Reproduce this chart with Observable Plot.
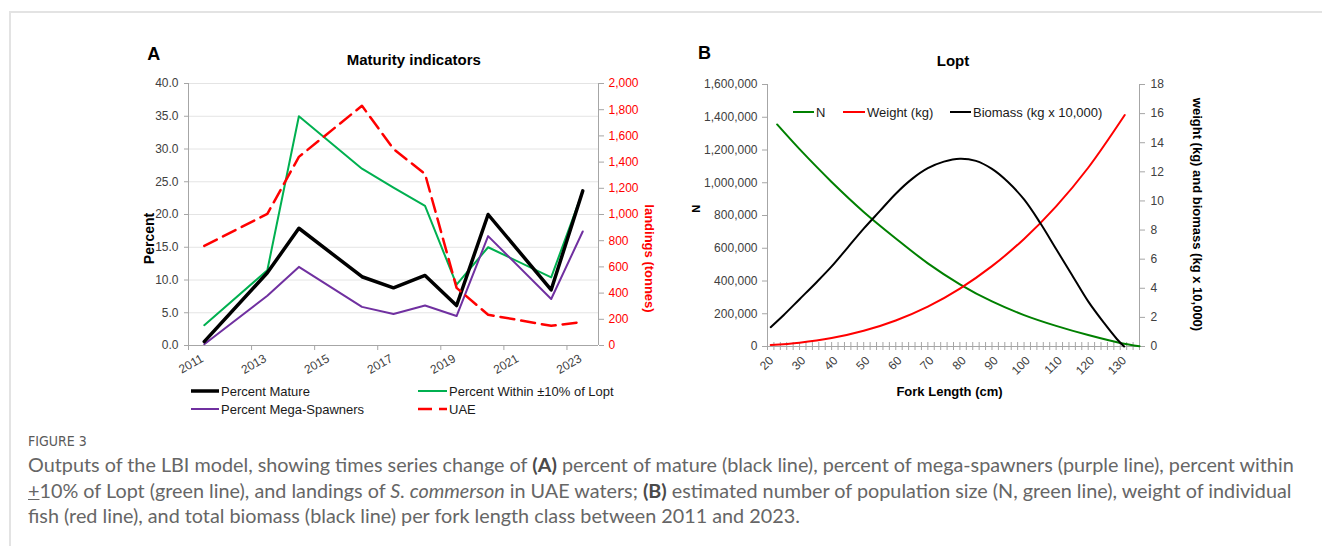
<!DOCTYPE html>
<html>
<head>
<meta charset="utf-8">
<script src="https://cdn.jsdelivr.net/npm/d3@7"></script>
<script src="https://cdn.jsdelivr.net/npm/@observablehq/plot@0.6"></script>
<style>
  html, body { margin: 0; padding: 0; background: #fff; }
  #page { position: relative; width: 1322px; height: 546px; overflow: hidden;
          font-family: "Liberation Sans", Arial, sans-serif; }
  #frame { position: absolute; left: 9px; top: 11px; right: -10px; bottom: -10px;
           border-left: 2px solid #e3e3e3; border-top: 2px solid #e3e3e3; }
  .panel { position: absolute; top: 0; }
  .leg { position: absolute; display: flex; align-items: center; font-size: 13px;
         color: #1a1a1a; white-space: nowrap; height: 16px; }
  .leg svg { display: block; margin-right: 2px; }
  #figlabel { position: absolute; left: 28px; top: 432px;
              font-family: "Liberation Sans Narrow", "DejaVu Sans Condensed", Lato, sans-serif;
              font-size: 14px; color: #5a5a5a; white-space: nowrap; line-height: 18px; }
  #caption { position: absolute; left: 28px; top: 452px; font-family: Lato, "Open Sans", sans-serif;
             font-size: 17px; color: #666; line-height: 25.5px; white-space: nowrap; }
  #caption b { font-weight: 700; color: #4a4a4a; }
</style>
</head>
<body>
<div id="page">
  <div id="frame"></div>
  <div id="panelA" class="panel" style="left:0px"></div>
  <div id="panelB" class="panel" style="left:680px"></div>
  <div id="legends"></div>
  <div id="figlabel">FIGURE 3</div>
  <div id="caption">
    <span class="cl">Outputs of the LBI model, showing times series change of <b>(A)</b> percent of mature (black line), percent of mega-spawners (purple line), percent within</span><br>
    <span class="cl"><u>+</u>10% of Lopt (green line), and landings of <i>S. commerson</i> in UAE waters; <b>(B)</b> estimated number of population size (N, green line), weight of individual</span><br>
    <span class="cl">fish (red line), and total biomass (black line) per fork length class between 2011 and 2023.</span>
  </div>
</div>
<script>
// ---- Panel A: maturity indicators by year ----
const years        = [2011, 2013, 2014, 2016, 2017, 2018, 2019, 2020, 2022, 2023];
const pctMature    = [0.6, 11.1, 17.9, 10.5, 8.8, 10.7, 6.1, 20.0, 8.5, 23.6];
const pctWithinLopt= [3.1, 11.5, 35.0, 27.0, 24.1, 21.3, 9.3, 15.0, 10.4, 23.5];
const pctMega      = [0.2, 7.6, 12.0, 5.9, 4.8, 6.1, 4.5, 16.7, 7.1, 17.4];
const landingsUAE  = [760, 1005, 1440, 1830, 1500, 1310, 440, 235, 150, 180];
const yearLabels   = [2011, 2013, 2015, 2017, 2019, 2021, 2023];
const percentTicks = [0, 5, 10, 15, 20, 25, 30, 35, 40];
const landingTicks = [0, 200, 400, 600, 800, 1000, 1200, 1400, 1600, 1800, 2000];

// ---- Panel B: Lopt curves by fork length ----
const lenN   = [23, 30, 40, 50, 60, 70, 80, 90, 100, 110, 120, 130, 136];
const valN   = [1356000, 1205000, 1005000, 822000, 660000, 508000, 380000, 275000, 192000, 126000, 70000, 22000, 2000];
const lenW   = [21, 30, 40, 50, 60, 70, 80, 90, 100, 110, 120, 131.4];
const valW   = [0.1, 0.26, 0.58, 1.08, 1.79, 2.74, 3.98, 5.52, 7.39, 9.63, 12.28, 15.9];
const lenBio = [21, 25, 30, 35, 40, 45, 50, 55, 60, 65, 70, 75, 80, 85, 90, 95, 100, 105, 110, 115, 120, 125, 129, 131.2];
const valBio = [1.33, 2.15, 3.25, 4.35, 5.5, 6.8, 8.1, 9.3, 10.5, 11.5, 12.25, 12.7, 12.9, 12.75, 12.2, 11.3, 10.1, 8.5, 6.7, 4.9, 3.1, 1.6, 0.5, 0.0];
const nTicks      = [0, 200000, 400000, 600000, 800000, 1000000, 1200000, 1400000, 1600000];
const weightTicks = [0, 2, 4, 6, 8, 10, 12, 14, 16, 18];
const lengthLabels = [20, 30, 40, 50, 60, 70, 80, 90, 100, 110, 120, 130];

const grey = "#a6a6a6";
const tickText = "#404040";
const font = "Liberation Sans, Arial, sans-serif";

// ---------- Panel A ----------
const tonnesPerPct = 2000 / 40;   // secondary axis: 2,000 t spans the 40 % range
const rowsA = years.map((year, i) => ({
  year, mature: pctMature[i], lopt: pctWithinLopt[i], mega: pctMega[i], uae: landingsUAE[i]
}));
const boundaries = yearLabels.map(y => y - 0.5);

const chartA = Plot.plot({
  width: 680, height: 380,
  marginLeft: 188, marginRight: 82, marginTop: 83, marginBottom: 35,
  style: { fontFamily: font, fontSize: "12px", background: "transparent", overflow: "visible" },
  x: { domain: [2010.5, 2023.5] },
  y: { domain: [0, 40] },
  marks: [
    Plot.gridY(percentTicks.filter(v => v > 0), { stroke: "#e4e4e4", strokeOpacity: 1 }),
    Plot.ruleY([0], { stroke: grey }),
    Plot.ruleX([2010.5, 2023.5], { stroke: grey }),
    Plot.axisY(percentTicks, { anchor: "left", tickSize: 4, tickPadding: 6, stroke: grey, fill: tickText,
      tickFormat: d3.format(".1f"), label: null }),
    Plot.axisY(landingTicks.map(v => v / tonnesPerPct), { anchor: "right", tickSize: 5, tickPadding: 5,
      stroke: grey, fill: "#ff0000", tickFormat: v => d3.format(",")(Math.round(v * tonnesPerPct)), label: null }),
    Plot.axisX(boundaries, { anchor: "bottom", tickSize: 5, stroke: grey, tickFormat: () => "", label: null }),
    Plot.text(yearLabels, { x: d => d, text: d => String(d), frameAnchor: "bottom", rotate: -30,
      textAnchor: "end", lineAnchor: "middle", dx: -2, dy: 12, fill: tickText, fontSize: 12 }),
    Plot.line(rowsA, { x: "year", y: "lopt", stroke: "#00b050", strokeWidth: 2 }),
    Plot.line(rowsA, { x: "year", y: "mega", stroke: "#7030a0", strokeWidth: 2 }),
    Plot.line(rowsA, { x: "year", y: "mature", stroke: "#000000", strokeWidth: 3.5 }),
    Plot.line(rowsA, { x: "year", y: d => d.uae / tonnesPerPct, stroke: "#ff0000", strokeWidth: 2.5,
      strokeDasharray: "14,7" }),
    Plot.text(["A"], { frameAnchor: "top-left", textAnchor: "middle", lineAnchor: "middle",
      dx: -34.7, dy: -29.2, fontSize: 18, fontWeight: "bold", fill: "#000" }),
    Plot.text(["Maturity indicators"], { frameAnchor: "top", textAnchor: "middle", lineAnchor: "middle",
      dx: 20.3, dy: -23.8, fontSize: 15, fontWeight: "bold", fill: "#000" }),
    Plot.text(["Percent"], { frameAnchor: "left", rotate: -90, textAnchor: "middle", lineAnchor: "middle",
      dx: -39, dy: 24, fontSize: 14, fontWeight: "bold", fill: "#000" }),
    Plot.text(["landings (tonnes)"], { frameAnchor: "right", rotate: 90, textAnchor: "middle", lineAnchor: "middle",
      dx: 50.6, dy: 44, fontSize: 13, fontWeight: "bold", fill: "#ff0000" })
  ]
});
document.getElementById("panelA").appendChild(chartA);

// ---------- Panel B ----------
const nPerUnit = 1600000 / 18;    // secondary axis: 18 units span the 1.6 M range
const rowsN   = lenN.map((fl, i) => ({ fl, v: valN[i] }));
const rowsW   = lenW.map((fl, i) => ({ fl, v: valW[i] }));
const rowsBio = lenBio.map((fl, i) => ({ fl, v: valBio[i] }));

const chartB = Plot.plot({
  width: 560, height: 410,
  marginLeft: 87, marginRight: 101, marginTop: 84, marginBottom: 64,
  style: { fontFamily: font, fontSize: "12px", background: "transparent", overflow: "visible" },
  x: { domain: [20, 136], axis: null },
  y: { domain: [0, 1600000] },
  marks: [
    Plot.ruleY([0], { stroke: grey }),
    Plot.ruleX([20, 136], { stroke: grey }),
    Plot.tickX(d3.range(20, 137, 2), { x: d => d, stroke: grey, insetTop: 258, insetBottom: -4 }),
    Plot.axisY(nTicks, { anchor: "left", tickSize: 5, tickPadding: 5, stroke: grey, fill: tickText,
      tickFormat: d3.format(","), label: null }),
    Plot.axisY(weightTicks.map(v => v * nPerUnit), { anchor: "right", tickSize: 5, tickPadding: 6,
      stroke: grey, fill: tickText, tickFormat: v => String(Math.round(v / nPerUnit)), label: null }),
    Plot.text(lengthLabels, { x: d => d, text: d => String(d), frameAnchor: "bottom", rotate: -45,
      textAnchor: "end", lineAnchor: "middle", dx: 4, dy: 12, fill: tickText, fontSize: 12 }),
    Plot.line(rowsN, { x: "fl", y: "v", stroke: "#008000", strokeWidth: 2, curve: "catmull-rom" }),
    Plot.line(rowsW, { x: "fl", y: d => d.v * nPerUnit, stroke: "#ff0000", strokeWidth: 2, curve: "catmull-rom" }),
    Plot.line(rowsBio, { x: "fl", y: d => d.v * nPerUnit, stroke: "#000000", strokeWidth: 2, curve: "catmull-rom" }),
    Plot.text(["B"], { frameAnchor: "top-left", textAnchor: "middle", lineAnchor: "middle",
      dx: -63, dy: -31.3, fontSize: 18, fontWeight: "bold", fill: "#000" }),
    Plot.text(["Lopt"], { frameAnchor: "top", textAnchor: "middle", lineAnchor: "middle",
      dx: -0.5, dy: -23, fontSize: 15, fontWeight: "bold", fill: "#000" }),
    Plot.text(["N"], { frameAnchor: "left", rotate: -90, textAnchor: "middle", lineAnchor: "middle",
      dx: -71.5, dy: -6.7, fontSize: 11, fontWeight: "bold", fill: "#000" }),
    Plot.text(["weight (kg) and biomass (kg x 10,000)"], { frameAnchor: "right", rotate: 90,
      textAnchor: "middle", lineAnchor: "middle", dx: 57.9, dy: -1, fontSize: 13, fontWeight: "bold", fill: "#000" }),
    Plot.text(["Fork Length (cm)"], { frameAnchor: "bottom", textAnchor: "middle", lineAnchor: "middle",
      dx: -4, dy: 45.8, fontSize: 13, fontWeight: "bold", fill: "#000" })
  ]
});
document.getElementById("panelB").appendChild(chartB);

// ---------- Legends ----------
const legendItems = [
  { x: 191, y: 391, w: 28, label: "Percent Mature",              color: "#000000", sw: 3.5, dash: null },
  { x: 418, y: 391, w: 29, label: "Percent Within \u00b110% of Lopt", color: "#00b050", sw: 2, dash: null },
  { x: 191, y: 409, w: 28, label: "Percent Mega-Spawners",       color: "#7030a0", sw: 2, dash: null },
  { x: 418, y: 409, w: 29, label: "UAE",                         color: "#ff0000", sw: 2.5, dash: "14,7" },
  { x: 793, y: 112, w: 21, label: "N",                           color: "#008000", sw: 2, dash: null },
  { x: 843, y: 112, w: 22, label: "Weight (kg)",                 color: "#ff0000", sw: 2, dash: null },
  { x: 950, y: 112, w: 21, label: "Biomass (kg x 10,000)",       color: "#000000", sw: 2, dash: null }
];
const legendHost = document.getElementById("legends");
for (const it of legendItems) {
  const div = document.createElement("div");
  div.className = "leg";
  div.style.left = it.x + "px";
  div.style.top = (it.y - 8) + "px";
  const svg = d3.create("svg").attr("width", it.w).attr("height", 16);
  svg.append("line").attr("x1", 0).attr("x2", it.w).attr("y1", 8).attr("y2", 8)
    .attr("stroke", it.color).attr("stroke-width", it.sw)
    .attr("stroke-dasharray", it.dash);
  div.appendChild(svg.node());
  const span = document.createElement("span");
  span.textContent = it.label;
  div.appendChild(span);
  legendHost.appendChild(div);
}

// ---------- Caption sizing: first line spans the full text column ----------
const caption = document.getElementById("caption");
const firstLine = caption.querySelector(".cl");
const targetWidth = 1266;
const w0 = firstLine.getBoundingClientRect().width;
if (w0 > 0) caption.style.fontSize = (17 * targetWidth / w0).toFixed(2) + "px";
</script>
</body>
</html>
